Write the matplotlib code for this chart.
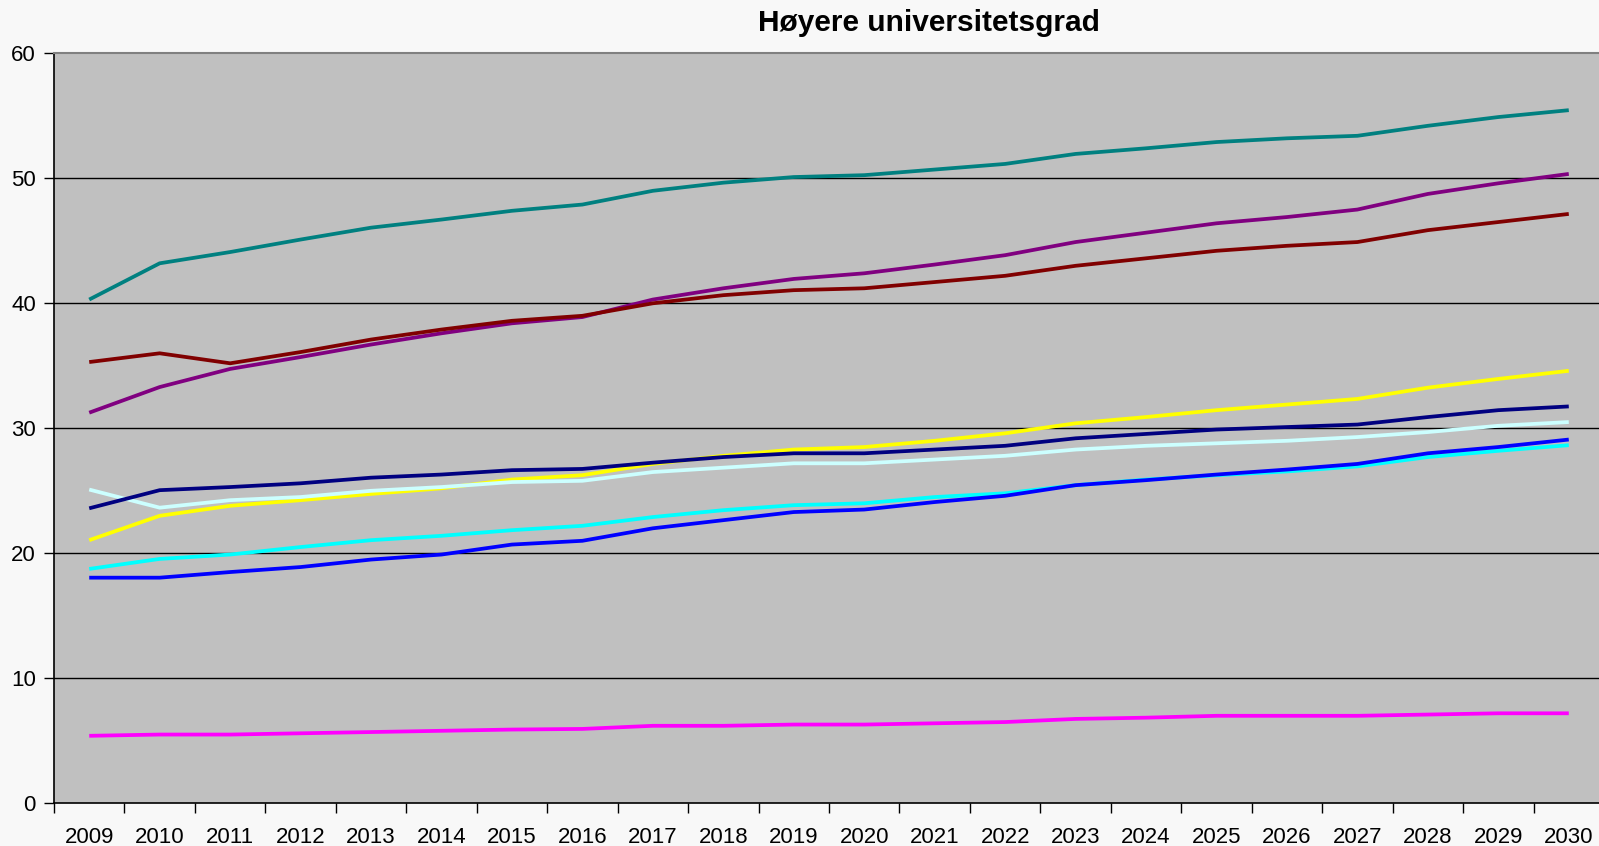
#!/usr/bin/env python3
"""Høyere universitetsgrad - line chart, 2009-2030."""

import matplotlib
matplotlib.use("Agg")
import matplotlib.pyplot as plt
import numpy as np

plt.rcParams["font.family"] = ["Liberation Sans", "DejaVu Sans"]

years = [str(y) for y in range(2009, 2031)]

teal = [40.3, 43.2, 44.1, 45.1, 46.05, 46.7, 47.4, 47.9, 49.0, 49.65, 50.1,
        50.25, 50.7, 51.15, 51.95, 52.4, 52.9, 53.2, 53.4, 54.2, 54.9, 55.45]
purple = [31.25, 33.3, 34.75, 35.7, 36.7, 37.6, 38.4, 38.9, 40.3, 41.2, 41.95,
          42.4, 43.1, 43.85, 44.9, 45.65, 46.4, 46.9, 47.5, 48.75, 49.6, 50.35]
darkred = [35.3, 36.0, 35.2, 36.1, 37.1, 37.9, 38.6, 39.0, 40.0, 40.65, 41.05,
           41.2, 41.7, 42.2, 43.0, 43.6, 44.2, 44.6, 44.9, 45.85, 46.5, 47.15]
yellow = [21.05, 23.0, 23.8, 24.25, 24.75, 25.2, 25.9, 26.25, 27.15, 27.8, 28.3,
          28.5, 29.0, 29.6, 30.4, 30.9, 31.45, 31.9, 32.35, 33.25, 33.95, 34.6]
lightcyan = [25.1, 23.65, 24.25, 24.5, 25.0, 25.3, 25.7, 25.8, 26.5, 26.85, 27.2,
             27.2, 27.5, 27.8, 28.3, 28.6, 28.8, 29.0, 29.3, 29.7, 30.2, 30.5]
navy = [23.6, 25.05, 25.3, 25.6, 26.05, 26.3, 26.65, 26.75, 27.25, 27.7, 28.0,
        28.0, 28.3, 28.6, 29.2, 29.55, 29.9, 30.1, 30.3, 30.9, 31.45, 31.75]
cyan = [18.75, 19.55, 19.9, 20.5, 21.05, 21.4, 21.85, 22.2, 22.9, 23.45, 23.85,
        24.0, 24.5, 24.8, 25.45, 25.9, 26.25, 26.55, 26.95, 27.7, 28.2, 28.65]
blue = [18.05, 18.05, 18.5, 18.9, 19.5, 19.9, 20.7, 21.0, 22.0, 22.65, 23.3,
        23.5, 24.1, 24.6, 25.45, 25.85, 26.3, 26.7, 27.15, 28.0, 28.5, 29.1]
magenta = [5.4, 5.5, 5.5, 5.6, 5.7, 5.8, 5.9, 5.95, 6.2, 6.2, 6.3,
           6.3, 6.4, 6.5, 6.75, 6.85, 7.0, 7.0, 7.0, 7.1, 7.2, 7.2]

series = [
    (teal, "#008080"),
    (purple, "#800080"),
    (darkred, "#800000"),
    (yellow, "#ffff00"),
    (lightcyan, "#ccffff"),
    (navy, "#000080"),
    (cyan, "#00ffff"),
    (blue, "#0000ff"),
    (magenta, "#ff00ff"),
]

fig = plt.figure(figsize=(15.99, 8.46), dpi=100)
fig.patch.set_facecolor("#f8f8f8")
# plot area runs slightly past the right edge, as in the original crop
ax = fig.add_axes([54 / 1599, 1 - 803.3 / 846, 1550 / 1599, 750 / 846])
ax.set_facecolor("#c0c0c0")

x = np.arange(len(years))
for vals, col in series:
    ax.plot(x, vals, color=col, lw=2.7, solid_capstyle="butt", zorder=3)

ax.set_xlim(-0.5, len(years) - 0.5)
ax.set_ylim(0, 60)

# gridlines
for v in range(10, 60, 10):
    ax.axhline(v, color="#000000", lw=1.0, zorder=2)

ax.set_yticks(range(0, 61, 10))
ax.tick_params(axis="y", direction="out", length=7, width=1, labelsize=16,
               pad=6, colors="#000000")

# ticks between categories, labels at centres
ax.set_xticks(np.arange(-0.5, len(years), 1))
ax.set_xticklabels([])
ax.set_xticks(x, minor=True)
ax.set_xticklabels(years, minor=True)
ax.tick_params(axis="x", which="major", direction="out", length=7, width=1)
ax.tick_params(axis="x", which="minor", length=0, labelsize=16, pad=17)

for s in ["left", "bottom"]:
    ax.spines[s].set_color("#000000")
    ax.spines[s].set_linewidth(1.2)
ax.spines["top"].set_color("#808080")
ax.spines["top"].set_linewidth(1.5)
ax.spines["right"].set_visible(False)

fig.text(929 / 1599, 1 - 23 / 846, "Høyere universitetsgrad", ha="center",
         va="center", fontsize=21.5, weight="bold", color="#000000")

fig.savefig("out.png", dpi=100, facecolor=fig.get_facecolor())
